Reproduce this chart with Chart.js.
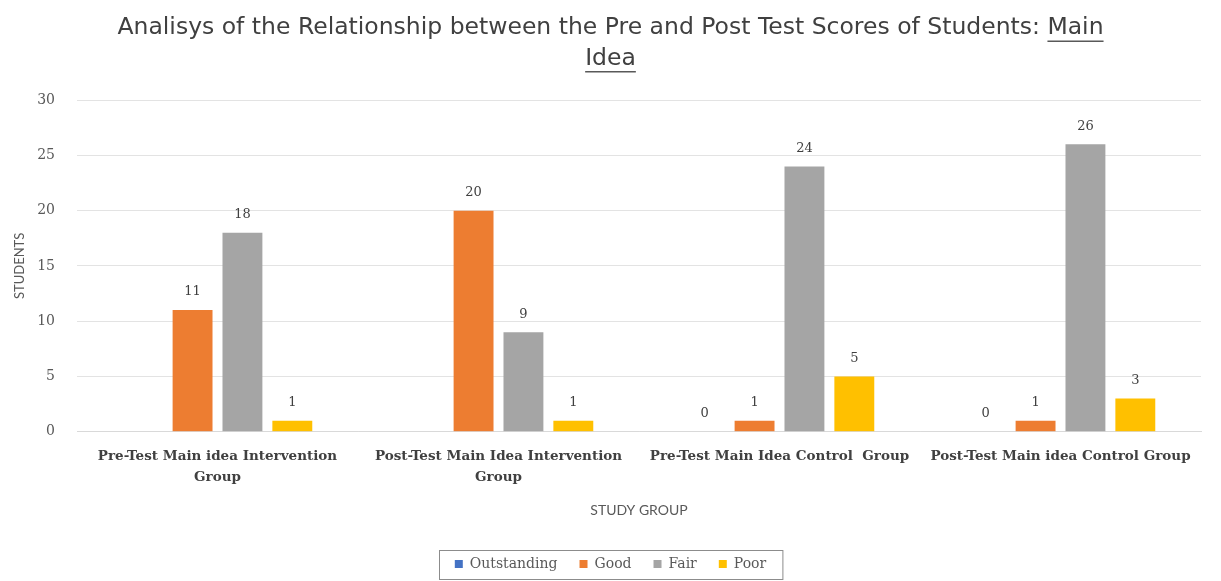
<!DOCTYPE html>
<html>
<head>
<meta charset="utf-8">
<script src="https://cdn.jsdelivr.net/npm/chart.js@4.4.0/dist/chart.umd.min.js"></script>
<style>
  html, body { margin: 0; padding: 0; background: #fff; }
  #wrap { width: 1221px; height: 581px; }
</style>
</head>
<body>
<div id="wrap"><canvas id="myChart"></canvas></div>
<script>
const groups = [
  ["Pre-Test Main idea Intervention", "Group"],
  ["Post-Test Main Idea Intervention", "Group"],
  "Pre-Test Main Idea Control  Group",
  "Post-Test Main idea Control Group",
];
const outstanding = [null, null, 0, 0];
const good = [11, 20, 1, 1];
const fair = [18, 9, 24, 26];
const poor = [1, 1, 5, 3];
const yTicks = [0, 5, 10, 15, 20, 25, 30];

const titleLines = [
  "Analisys of the Relationship between the Pre and Post Test Scores of Students: Main",
  "Idea",
];
const titleFont = "'DejaVu Sans'";
const titleSize = 23.5;
const titleLH = 1.3;

// draws the numbers over the bars
const valueLabels = {
  id: "valueLabels",
  afterDatasetsDraw: (chart) => {
    let ctx = chart.ctx;
    ctx.save();
    ctx.font = "13px 'DejaVu Serif'";
    ctx.fillStyle = "#404040";
    ctx.textAlign = "center";
    ctx.textBaseline = "middle";
    chart.data.datasets.forEach((ds, i) => {
      let meta = chart.getDatasetMeta(i);
      meta.data.forEach((bar, j) => {
        if (ds.data[j] === null) return;
        ctx.fillText(ds.data[j], bar.x, bar.y - 18);
      });
    });
    ctx.restore();
  },
};

// underline "Main Idea" and put a box round the legend
const extras = {
  id: "extras",
  afterDraw: (chart) => {
    let ctx = chart.ctx;
    ctx.save();
    let t = chart.titleBlock;
    let lh = titleSize * titleLH;
    ctx.font = titleSize + "px " + titleFont;
    let cx = (t.left + t.right) / 2;
    ctx.strokeStyle = "#595959";
    ctx.lineWidth = 1.5;
    let w1 = ctx.measureText(titleLines[0]).width;
    let wm = ctx.measureText("Main").width;
    let y1 = t.top + t.options.padding.top + lh * 0.5 + titleSize * 0.55;
    ctx.beginPath();
    ctx.moveTo(cx + w1 / 2 - wm, y1);
    ctx.lineTo(cx + w1 / 2, y1);
    let w2 = ctx.measureText(titleLines[1]).width;
    let y2 = y1 + lh;
    ctx.moveTo(cx - w2 / 2, y2);
    ctx.lineTo(cx + w2 / 2, y2);
    ctx.stroke();

    let boxes = chart.legend.legendHitBoxes;
    let right = 0;
    boxes.forEach((b) => {
      right = Math.max(right, b.left + b.width);
    });
    let left = boxes[0].left - 16;
    let mid = boxes[0].top + boxes[0].height / 2;
    ctx.strokeStyle = "#8c8c8c";
    ctx.lineWidth = 1;
    ctx.strokeRect(Math.round(left) + 0.5, Math.round(mid - 14) + 0.5, right - left + 16, 29);
    ctx.restore();
  },
};

const ctx = document.getElementById("myChart").getContext("2d");
const myChart = new Chart(ctx, {
  type: "bar",
  data: {
    labels: groups,
    datasets: [
      { label: "Outstanding", data: outstanding, backgroundColor: "#4472C4" },
      { label: "Good", data: good, backgroundColor: "#ED7D31" },
      { label: "Fair", data: fair, backgroundColor: "#A5A5A5" },
      { label: "Poor", data: poor, backgroundColor: "#FFC000" },
    ],
  },
  options: {
    responsive: true,
    maintainAspectRatio: false,
    animation: false,
    categoryPercentage: 0.71,
    barPercentage: 0.8,
    layout: { padding: { top: 8, right: 20, left: 20, bottom: 0 } },
    scales: {
      x: {
        grid: { display: false, drawTicks: false },
        border: { color: "#d9d9d9" },
        ticks: {
          autoSkip: false,
          maxRotation: 0,
          color: "#404040",
          font: { family: "'DejaVu Serif'", size: 13.5, weight: "bold", lineHeight: 1.5 },
          padding: 15,
        },
        title: {
          display: true,
          text: "STUDY GROUP",
          color: "#595959",
          font: { family: "Lato", size: 14 },
          padding: { top: 0, bottom: 16 },
        },
      },
      y: {
        min: 0,
        max: 30,
        afterBuildTicks: (axis) => {
          axis.ticks = yTicks.map((v) => ({ value: v }));
        },
        afterFit: (axis) => {
          axis.width = 57;
        },
        grid: { color: "#e3e3e3", drawTicks: false },
        border: { display: false },
        ticks: {
          color: "#595959",
          font: { family: "'DejaVu Serif'", size: 14 },
          padding: 22,
        },
        title: {
          display: true,
          text: "STUDENTS",
          color: "#595959",
          font: { family: "Lato", size: 13 },
          padding: { top: -8, bottom: 4 },
        },
      },
    },
    plugins: {
      title: {
        display: true,
        text: titleLines,
        color: "#404040",
        font: { family: titleFont, size: titleSize, weight: "normal", lineHeight: titleLH },
        padding: { top: 5, bottom: 26 },
      },
      legend: {
        position: "bottom",
        labels: {
          boxWidth: 8,
          boxHeight: 8,
          padding: 22,
          color: "#595959",
          font: { family: "'DejaVu Serif'", size: 14 },
        },
      },
      tooltip: { enabled: false },
    },
  },
  plugins: [valueLabels, extras],
});
</script>
</body>
</html>
